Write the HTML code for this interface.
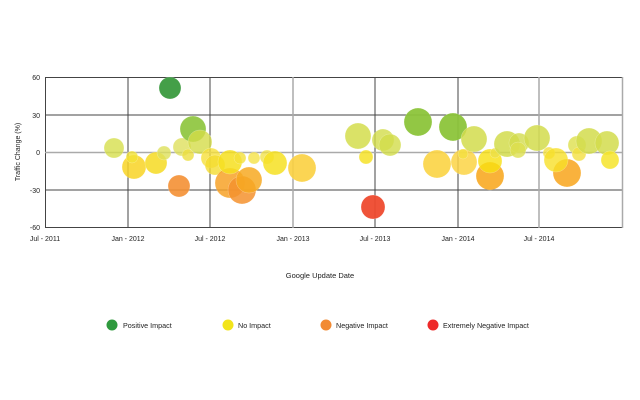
<!DOCTYPE html>
<html><head><style>body{margin:0;background:#fff}svg{display:block}text{font-family:"Liberation Sans",sans-serif;fill:#222}</style></head><body>
<svg width="640" height="400" viewBox="0 0 640 400">
<g stroke="#444" stroke-width="1">
<line x1="45.5" y1="77.5" x2="623" y2="77.5"/>
<line x1="45.5" y1="115" x2="623" y2="115"/>
<line x1="45.5" y1="190" x2="623" y2="190"/>
<line x1="45.5" y1="227.5" x2="623" y2="227.5"/>
<line x1="45.5" y1="77" x2="45.5" y2="228"/>
<line x1="128" y1="77" x2="128" y2="228"/>
<line x1="210" y1="77" x2="210" y2="228"/>
<line x1="375" y1="77" x2="375" y2="228"/>
<line x1="458" y1="77" x2="458" y2="228"/>
</g>
<g stroke="#aaa" stroke-width="1.5">
<line x1="45" y1="152.5" x2="623" y2="152.5"/>
<line x1="293" y1="77" x2="293" y2="228"/>
<line x1="539" y1="77" x2="539" y2="228"/>
<line x1="622.5" y1="77" x2="622.5" y2="228"/>
</g>
<g font-size="7" text-anchor="end">
<text x="40" y="80">60</text><text x="40" y="118">30</text><text x="40" y="155">0</text><text x="40" y="193">-30</text><text x="40" y="230">-60</text>
</g>
<g font-size="7" text-anchor="middle">
<text x="45" y="241">Jul - 2011</text><text x="128" y="241">Jan - 2012</text><text x="210" y="241">Jul - 2012</text><text x="293" y="241">Jan - 2013</text><text x="375" y="241">Jul - 2013</text><text x="458" y="241">Jan - 2014</text><text x="539" y="241">Jul - 2014</text>
</g>
<text x="320" y="278" font-size="7.5" text-anchor="middle">Google Update Date</text>
<text transform="translate(20,152) rotate(-90)" font-size="7" text-anchor="middle">Traffic Change (%)</text>
<g stroke="#fff" stroke-opacity="0.4" stroke-width="0.5">
<circle cx="114" cy="148" r="10" fill="#d6df4c" fill-opacity="0.8"/>
<circle cx="134" cy="167" r="12" fill="#f8d424" fill-opacity="0.85"/>
<circle cx="132" cy="157" r="6" fill="#f2e236" fill-opacity="0.8"/>
<circle cx="156" cy="163" r="11" fill="#f6db22" fill-opacity="0.85"/>
<circle cx="164" cy="153" r="7" fill="#dde05a" fill-opacity="0.8"/>
<circle cx="170" cy="88" r="11" fill="#3a9a3e" fill-opacity="0.95"/>
<circle cx="179" cy="186" r="11" fill="#f49034" fill-opacity="0.9"/>
<circle cx="182" cy="147" r="9" fill="#dfe05c" fill-opacity="0.8"/>
<circle cx="188" cy="155" r="6" fill="#ecdf40" fill-opacity="0.8"/>
<circle cx="193" cy="129" r="13" fill="#8cc43a" fill-opacity="0.9"/>
<circle cx="200" cy="142" r="12" fill="#d4dc48" fill-opacity="0.8"/>
<circle cx="211" cy="158" r="10" fill="#f6e03a" fill-opacity="0.8"/>
<circle cx="215" cy="165" r="10" fill="#f4dc30" fill-opacity="0.8"/>
<circle cx="230" cy="183" r="15" fill="#f7a228" fill-opacity="0.85"/>
<circle cx="230" cy="162" r="12" fill="#f6df1e" fill-opacity="0.85"/>
<circle cx="240" cy="158" r="6" fill="#f4e03a" fill-opacity="0.8"/>
<circle cx="242" cy="190" r="14" fill="#f4922e" fill-opacity="0.85"/>
<circle cx="249" cy="180" r="13" fill="#f7a922" fill-opacity="0.85"/>
<circle cx="254" cy="158" r="6" fill="#f4e03a" fill-opacity="0.75"/>
<circle cx="267" cy="157" r="7" fill="#f0e040" fill-opacity="0.75"/>
<circle cx="275" cy="163" r="12" fill="#f6e022" fill-opacity="0.85"/>
<circle cx="302" cy="168" r="14" fill="#fbd040" fill-opacity="0.9"/>
<circle cx="358" cy="136" r="13" fill="#d4dd4c" fill-opacity="0.85"/>
<circle cx="366" cy="157" r="7" fill="#f6e228" fill-opacity="0.85"/>
<circle cx="383" cy="140" r="11" fill="#d2dc4a" fill-opacity="0.8"/>
<circle cx="390" cy="145" r="11" fill="#d2dc4a" fill-opacity="0.8"/>
<circle cx="418" cy="122" r="14" fill="#8cc43a" fill-opacity="0.95"/>
<circle cx="437" cy="164" r="14" fill="#fbd444" fill-opacity="0.9"/>
<circle cx="453" cy="127" r="14" fill="#8cc43a" fill-opacity="0.95"/>
<circle cx="464" cy="162" r="13" fill="#fbd444" fill-opacity="0.85"/>
<circle cx="474" cy="139" r="13" fill="#d2dc4c" fill-opacity="0.85"/>
<circle cx="463" cy="154" r="5" fill="#f4e040" fill-opacity="0.8"/>
<circle cx="490" cy="176" r="14" fill="#f8aa24" fill-opacity="0.9"/>
<circle cx="490" cy="161" r="12" fill="#f8e010" fill-opacity="0.8"/>
<circle cx="495" cy="153" r="5" fill="#ece048" fill-opacity="0.8"/>
<circle cx="507" cy="144" r="13" fill="#d2dc4c" fill-opacity="0.85"/>
<circle cx="519" cy="143" r="10" fill="#d2dc4c" fill-opacity="0.8"/>
<circle cx="518" cy="150" r="8" fill="#dde050" fill-opacity="0.8"/>
<circle cx="537" cy="138" r="13" fill="#d2dc4c" fill-opacity="0.85"/>
<circle cx="549" cy="153" r="6" fill="#f4e040" fill-opacity="0.8"/>
<circle cx="567" cy="173" r="14" fill="#f8aa28" fill-opacity="0.9"/>
<circle cx="556" cy="160" r="12" fill="#f8e028" fill-opacity="0.8"/>
<circle cx="577" cy="145" r="9" fill="#dde04c" fill-opacity="0.8"/>
<circle cx="579" cy="154" r="7" fill="#f4e040" fill-opacity="0.8"/>
<circle cx="589" cy="141" r="13" fill="#d2dc4c" fill-opacity="0.85"/>
<circle cx="607" cy="143" r="12" fill="#d2dc4c" fill-opacity="0.85"/>
<circle cx="610" cy="160" r="9" fill="#f6e42a" fill-opacity="0.85"/>
<circle cx="373" cy="207" r="12" fill="#ee4a2e" fill-opacity="0.95"/>
</g>
<circle cx="112" cy="325" r="5.5" fill="#2f9a3e"/>
<circle cx="228" cy="325" r="5.5" fill="#f2e41a"/>
<circle cx="326" cy="325" r="5.5" fill="#f28a32"/>
<circle cx="433" cy="325" r="5.5" fill="#ee2a2a"/>
<g font-size="7.2">
<text x="123" y="328">Positive Impact</text>
<text x="238" y="328">No Impact</text>
<text x="336" y="328">Negative Impact</text>
<text x="443" y="328">Extremely Negative Impact</text>
</g>
</svg>
</body></html>
